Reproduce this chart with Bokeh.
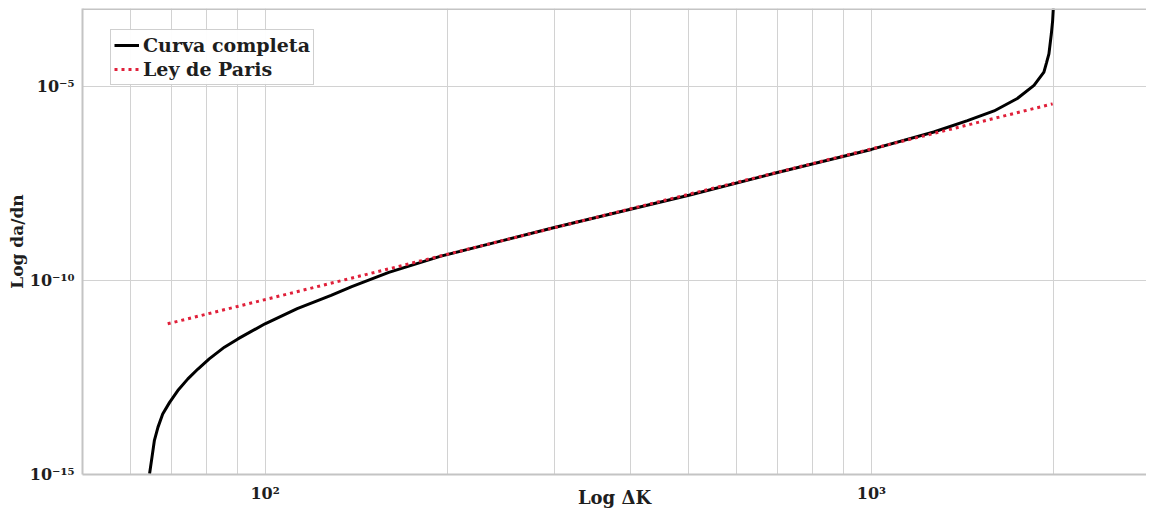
from bokeh.plotting import figure
from bokeh.models import FixedTicker, CustomJSTickFormatter, Legend, LegendItem, Range1d, Span
from bokeh.embed import file_html
from bokeh.resources import INLINE

# Full crack-growth curve
delta_k = [64.5, 65.1, 65.7, 66.6, 67.8, 69.6, 71.8, 74.6, 77.5, 80.9, 85.7, 90.2, 100,
           113, 128.5, 139, 160, 195, 240, 300, 500, 700, 1000, 1267, 1440, 1593, 1740,
           1854, 1925, 1945, 1962, 1980, 1990, 1995]
dadn = [1.05e-15, 2.8e-15, 7.6e-15, 1.66e-14, 3.6e-14, 7.2e-14, 1.45e-13, 2.9e-13, 5.2e-13,
        9.5e-13, 1.9e-12, 3.1e-12, 7.6e-12, 1.86e-11, 4.1e-11, 6.9e-11, 1.6e-10, 4.2e-10,
        9.5e-10, 2.3e-9, 1.55e-8, 6.0e-8, 2.35e-7, 6.6e-7, 1.3e-6, 2.3e-6, 4.8e-6,
        1.05e-5, 2.3e-5, 4.1e-5, 6.8e-5, 2.2e-4, 4.9e-4, 1.0e-3]

# Paris law line
paris_k = [69.1, 1990]
paris_dadn = [7.6e-12, 3.5e-6]

x_ticks = [100, 1000]
x_grid = [60, 70, 80, 90, 100, 200, 300, 400, 500, 600, 700, 800, 900, 1000, 2000]
y_ticks = [1e-15, 1e-10, 1e-5]

FONT = "DejaVu Serif"
TXT = "#1e1e1e"
FRAME = "#c4c4c4"

p = figure(width=1146, height=510, x_axis_type="log", y_axis_type="log",
           x_range=Range1d(50, 2842), y_range=Range1d(1e-15, 1e-3),
           output_backend="svg", toolbar_location=None,
           min_border_left=82, min_border_right=0, min_border_top=8, min_border_bottom=36)

p.outline_line_color = None
p.background_fill_color = "white"
p.border_fill_color = "white"

sup_js = """
const e = Math.round(Math.log10(tick));
const m = {"-":"\\u207b","0":"\\u2070","1":"\\u00b9","2":"\\u00b2","3":"\\u00b3","4":"\\u2074",
           "5":"\\u2075","6":"\\u2076","7":"\\u2077","8":"\\u2078","9":"\\u2079"};
return "10" + String(e).split("").map(c => m[c]).join("");
"""

for ax in (p.xaxis, p.yaxis):
    ax.formatter = CustomJSTickFormatter(code=sup_js)
    ax.axis_line_color = FRAME
    ax.axis_line_width = 2
    ax.major_tick_line_color = None
    ax.minor_tick_line_color = None
    ax.major_label_text_font = FONT
    ax.major_label_text_font_size = "16px"
    ax.major_label_text_font_style = "bold"
    ax.major_label_text_color = TXT
    ax.major_label_text_line_height = 0.9
    ax.axis_label_text_font = FONT
    ax.axis_label_text_font_style = "bold"
    ax.axis_label_text_color = TXT
    ax.axis_label_text_line_height = 0.9

p.xaxis.ticker = FixedTicker(ticks=x_ticks)
p.yaxis.ticker = FixedTicker(ticks=y_ticks)
p.xaxis.major_label_standoff = 3
p.yaxis.major_label_standoff = 2

p.xaxis.axis_label = "Log ΔK"
p.xaxis.axis_label_text_font_size = "18px"
p.xaxis.axis_label_standoff = -19
p.yaxis.axis_label = "Log da/dn"
p.yaxis.axis_label_text_font_size = "17px"
p.yaxis.axis_label_standoff = 0

p.xgrid.ticker = FixedTicker(ticks=x_grid)
p.ygrid.ticker = FixedTicker(ticks=y_ticks)
p.xgrid.grid_line_color = "#d2d2d2"
p.ygrid.grid_line_color = "#d2d2d2"
p.xgrid.grid_line_width = 1
p.ygrid.grid_line_width = 1

# top frame edge
p.add_layout(Span(location=1e-3, dimension="width", line_color=FRAME, line_width=3))

r1 = p.line(delta_k, dadn, line_color="black", line_width=3)
r2 = p.line(paris_k, paris_dadn, line_color="#e0203a", line_width=3, line_dash="3 4")

legend = Legend(items=[LegendItem(label="Curva completa", renderers=[r1]),
                       LegendItem(label="Ley de Paris", renderers=[r2])],
                location=(28, 389))
legend.label_text_font = FONT
legend.label_text_font_size = "19px"
legend.label_text_font_style = "bold"
legend.label_text_color = TXT
legend.border_line_color = "#a0a0a0"
legend.border_line_width = 1
legend.padding = 3
legend.spacing = 0
legend.margin = 0
legend.glyph_width = 25
legend.label_standoff = 4
legend.label_height = 24
legend.glyph_height = 24
p.add_layout(legend)

open("out.html", "w").write(file_html(p, INLINE))
